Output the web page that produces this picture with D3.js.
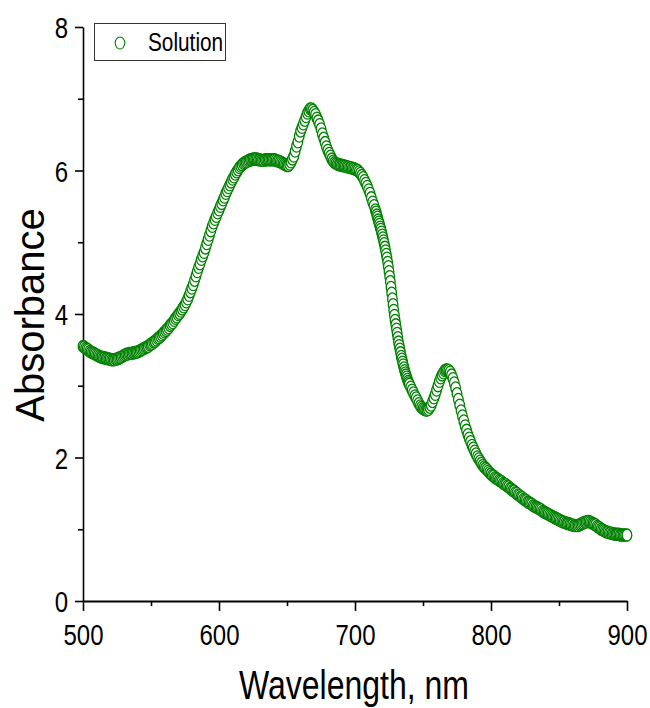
<!DOCTYPE html>
<html>
<head>
<meta charset="utf-8">
<script src="https://cdn.jsdelivr.net/npm/d3@7"></script>
<style>
  body { margin: 0; background: #fff; }
  svg { display: block; }
  text { font-family: "Liberation Sans", Arial, sans-serif; fill: #000; }
</style>
</head>
<body>
<div id="chart"></div>
<script>
// absorbance; 500-715 nm every 1 nm
var absA = [
  3.55, 3.54, 3.52, 3.51, 3.50, 3.48, 3.47, 3.46, 3.45, 3.44,
  3.43, 3.42, 3.41, 3.40, 3.40, 3.39, 3.39, 3.38, 3.38, 3.37,
  3.37, 3.36, 3.36, 3.36, 3.37, 3.37, 3.38, 3.39, 3.40, 3.41,
  3.42, 3.43, 3.44, 3.44, 3.45, 3.45, 3.45, 3.46, 3.46, 3.47,
  3.47, 3.48, 3.49, 3.50, 3.51, 3.52, 3.53, 3.54, 3.55, 3.57,
  3.58, 3.59, 3.61, 3.62, 3.64, 3.66, 3.67, 3.69, 3.71, 3.73,
  3.75, 3.77, 3.79, 3.81, 3.84, 3.86, 3.88, 3.91, 3.94, 3.96,
  3.99, 4.01, 4.04, 4.07, 4.10, 4.13, 4.17, 4.21, 4.26, 4.31,
  4.36, 4.41, 4.47, 4.53, 4.59, 4.65, 4.70, 4.76, 4.81, 4.86,
  4.92, 4.98, 5.04, 5.10, 5.16, 5.22, 5.27, 5.32, 5.36, 5.41,
  5.45, 5.50, 5.54, 5.59, 5.63, 5.68, 5.72, 5.76, 5.80, 5.84,
  5.88, 5.91, 5.95, 5.98, 6.01, 6.04, 6.06, 6.08, 6.10, 6.11,
  6.12, 6.13, 6.14, 6.15, 6.15, 6.16, 6.16, 6.16, 6.16, 6.15,
  6.15, 6.14, 6.14, 6.14, 6.15, 6.15, 6.15, 6.15, 6.15, 6.15,
  6.15, 6.15, 6.14, 6.13, 6.13, 6.12, 6.11, 6.10, 6.09, 6.08,
  6.07, 6.07, 6.09, 6.12, 6.16, 6.20, 6.27, 6.34, 6.40, 6.48,
  6.55, 6.60, 6.65, 6.70, 6.75, 6.80, 6.83, 6.86, 6.86, 6.84,
  6.81, 6.78, 6.73, 6.69, 6.64, 6.58, 6.51, 6.45, 6.39, 6.33,
  6.28, 6.24, 6.20, 6.16, 6.13, 6.11, 6.10, 6.09, 6.08, 6.08,
  6.07, 6.07, 6.06, 6.06, 6.05, 6.05, 6.04, 6.04, 6.03, 6.03,
  6.02, 6.01, 6.00, 5.98, 5.96, 5.93, 5.90, 5.86, 5.82, 5.78,
  5.73, 5.68, 5.62, 5.56, 5.51, 5.45
];
// steep drop, 715.5-740 nm every 0.5 nm
var absB = [
  5.42, 5.38, 5.35, 5.31, 5.28, 5.25, 5.21, 5.18, 5.14, 5.10,
  5.06, 5.02, 4.98, 4.93, 4.88, 4.83, 4.78, 4.72, 4.66, 4.59,
  4.52, 4.45, 4.37, 4.29, 4.21, 4.13, 4.05, 3.98, 3.91, 3.85,
  3.79, 3.73, 3.67, 3.61, 3.56, 3.51, 3.46, 3.41, 3.37, 3.33,
  3.29, 3.25, 3.21, 3.18, 3.15, 3.12, 3.09, 3.06, 3.04, 3.02
];
// 741-900 nm every 1 nm
var absC = [
  2.98, 2.94, 2.90, 2.86, 2.83, 2.79, 2.75, 2.72, 2.70, 2.68,
  2.67, 2.66, 2.66, 2.67, 2.70, 2.73, 2.78, 2.83, 2.88, 2.94,
  3.00, 3.06, 3.11, 3.15, 3.18, 3.21, 3.22, 3.22, 3.21, 3.19,
  3.15, 3.10, 3.04, 2.97, 2.89, 2.81, 2.73, 2.65, 2.58, 2.51,
  2.44, 2.38, 2.32, 2.27, 2.22, 2.17, 2.13, 2.09, 2.05, 2.01,
  1.98, 1.95, 1.92, 1.89, 1.87, 1.85, 1.83, 1.81, 1.79, 1.77,
  1.75, 1.74, 1.72, 1.71, 1.70, 1.68, 1.67, 1.66, 1.64, 1.63,
  1.62, 1.60, 1.59, 1.57, 1.56, 1.54, 1.53, 1.51, 1.50, 1.48,
  1.47, 1.45, 1.44, 1.42, 1.41, 1.40, 1.38, 1.37, 1.36, 1.35,
  1.33, 1.32, 1.31, 1.30, 1.29, 1.28, 1.27, 1.25, 1.24, 1.23,
  1.22, 1.21, 1.20, 1.19, 1.18, 1.17, 1.16, 1.15, 1.14, 1.13,
  1.12, 1.11, 1.10, 1.10, 1.09, 1.08, 1.08, 1.07, 1.06, 1.06,
  1.05, 1.05, 1.05, 1.05, 1.06, 1.07, 1.08, 1.09, 1.10, 1.10,
  1.11, 1.11, 1.10, 1.09, 1.08, 1.07, 1.06, 1.04, 1.03, 1.02,
  1.00, 0.99, 0.98, 0.97, 0.96, 0.96, 0.95, 0.95, 0.94, 0.94,
  0.93, 0.93, 0.93, 0.93, 0.92, 0.92, 0.92, 0.92, 0.92, 0.92
];

var xTicks = [500, 600, 700, 800, 900],
    xMinor = [550, 650, 750, 850],
    yTicks = [0, 2, 4, 6, 8],
    yMinor = [1, 3, 5, 7],
    seriesName = 'Solution',
    xTitle = 'Wavelength, nm',
    yTitle = 'Absorbance';

var green = '#008000',
    squeeze = 0.8;   // the picture's horizontal text is narrow

function buildSeries(start, step, values) {
  return values.map(function(v, i) { return {wl: start + i*step, a: v}; });
}

var points = [].concat(buildSeries(500, 1, absA), buildSeries(715.5, 0.5, absB), buildSeries(741, 1, absC));

var width = 650, height = 708,
    svg = d3.select('#chart').append('svg')
      .attr('width', width)
      .attr('height', height),
    x = d3.scaleLinear().domain([500, 900]).range([83, 627]),
    y = d3.scaleLinear().domain([0, 8]).range([601, 27]);

// minor ticks first, then the labelled ones
svg.append('g')
    .attr('transform', 'translate(0,601)')
    .call(d3.axisBottom(x).tickValues(xMinor).tickSize(5).tickSizeOuter(0).tickFormat(''))
    .call(function(g) { g.select('.domain').remove(); });
svg.append('g')
    .attr('transform', 'translate(83,0)')
    .call(d3.axisLeft(y).tickValues(yMinor).tickSize(5).tickSizeOuter(0).tickFormat(''))
    .call(function(g) { g.select('.domain').remove(); });

var xAxis = svg.append('g')
    .attr('class', 'x axis')
    .attr('transform', 'translate(0,601)')
    .call(d3.axisBottom(x).tickValues(xTicks).tickSize(10).tickSizeOuter(0));
var yAxis = svg.append('g')
    .attr('class', 'y axis')
    .attr('transform', 'translate(83,0)')
    .call(d3.axisLeft(y).tickValues(yTicks).tickSize(8).tickSizeOuter(0));

svg.selectAll('.tick line').attr('stroke', '#000').attr('stroke-width', 1.6);
xAxis.select('.domain').attr('stroke-width', 2.2);
yAxis.select('.domain').attr('stroke-width', 1.6);

xAxis.selectAll('text')
    .style('font-size', '30px')
    .attr('y', 44)
    .attr('dy', null)
    .attr('transform', 'scale(' + squeeze + ',1)');
yAxis.selectAll('text')
    .style('font-size', '30px')
    .attr('x', -15/squeeze)
    .attr('y', 10.5)
    .attr('dy', null)
    .attr('transform', 'scale(' + squeeze + ',1)');
svg.selectAll('.axis').attr('font-family', null).attr('font-size', null);

svg.append('text')
    .attr('transform', 'translate(354,699) scale(' + squeeze + ',1)')
    .attr('text-anchor', 'middle')
    .style('font-size', '40px')
    .text(xTitle);

svg.append('text')
    .attr('transform', 'translate(44,315) rotate(-90)')
    .attr('text-anchor', 'middle')
    .style('font-size', '40px')
    .text(yTitle);

// open circles, drawn in wavelength order
svg.append('g').selectAll('.point').data(points)
  .enter().append('ellipse')
    .attr('class', 'point')
    .attr('cx', function(d) { return x(d.wl); })
    .attr('cy', function(d) { return y(d.a); })
    .attr('rx', 4.8)
    .attr('ry', 6)
    .attr('fill', '#fff')
    .attr('stroke', green)
    .attr('stroke-width', 1.3);

// legend
var legend = svg.append('g').attr('class', 'legend');
legend.append('rect')
    .attr('x', 94.5)
    .attr('y', 23.5)
    .attr('width', 131)
    .attr('height', 37)
    .attr('fill', '#fff')
    .attr('stroke', '#333')
    .attr('stroke-width', 1);
legend.append('ellipse')
    .attr('cx', 120)
    .attr('cy', 43)
    .attr('rx', 4.8)
    .attr('ry', 6)
    .attr('fill', '#fff')
    .attr('stroke', green)
    .attr('stroke-width', 1.1);
legend.append('text')
    .attr('transform', 'translate(148,51) scale(' + squeeze + ',1)')
    .style('font-size', '26px')
    .text(seriesName);
</script>
</body>
</html>
